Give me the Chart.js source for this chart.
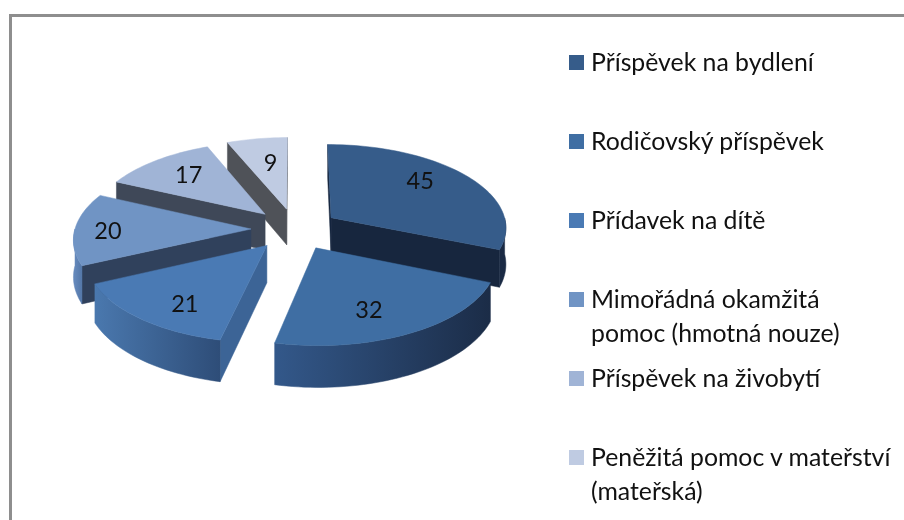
<!DOCTYPE html>
<html lang="cs">
<head>
    <meta charset="UTF-8">
    <title>Dávky</title>
    <script src="https://cdn.jsdelivr.net/npm/chart.js@4/dist/chart.umd.min.js"></script>
    <style>
        html, body {
            margin: 0;
            width: 904px;
            height: 520px;
            overflow: hidden;
            background: #fff;
        }
        #frame {
            position: absolute;
            left: 9px;
            top: 14px;
            right: 0;
            bottom: 0;
            border-left: 3px solid #8e8e8e;
            border-top: 3px solid #8e8e8e;
        }
        #chart {
            position: absolute;
            left: 0;
            top: 0;
        }
        #legend {
            position: absolute;
            left: 569px;
            top: 45px;
            font: 24.8px/33.5px Lato, sans-serif;
            color: #111;
        }
        .item {
            height: 79px;
            position: relative;
            padding-left: 22px;
            white-space: pre;
        }
        .item i {
            position: absolute;
            left: 0;
            top: 10px;
            width: 15px;
            height: 15px;
        }
    </style>
</head>
<body>
    <div id="frame"></div>
    <canvas id="chart" width="904" height="520"></canvas>
    <div id="legend"></div>

    <script>
        const categories = [
            'Příspěvek na bydlení',
            'Rodičovský příspěvek',
            'Přídavek na dítě',
            'Mimořádná okamžitá\npomoc (hmotná nouze)',
            'Příspěvek na živobytí',
            'Peněžitá pomoc v mateřství\n(mateřská)'
        ];
        const values = [45, 32, 21, 20, 17, 9];

        const topColors = ['#365c8a', '#3f6ea3', '#4a7ab4', '#7094c4', '#a0b4d6', '#bfcbe2'];
        const sideColors = ['#17263e', '#1b2c47', '#3c6496', '#30415c', '#3f4858', '#4f5258'];
        const rimLeft = ['#1a2a44', '#33588a', '#4a78ae', '#6488bb', '#8ea3c6', '#a0aec8'];
        const rimRight = ['#1a2a44', '#1b2c47', '#2e4d78', '#5377a8', '#8ea3c6', '#a0aec8'];
        const drawOrder = [5, 4, 3, 0, 2, 1];

        // posun popisku od vychozi pozice
        const labelDx = [4, -3, -7, -34, -7, 3];
        const labelDy = [-9, 12, 15, 2, -5, -1];

        // pohled na kolac - sklon, perspektiva, vyska
        const tilt = 0.472;
        const persp = 0.0006;
        const depth = 36.5;

        function project(cx, cy, x, y, h) {
            const f = 1 / (1 - y * persp);
            return [cx + x * f, cy + (y * tilt + h) * f];
        }

        function polygon(ctx, pts, fill) {
            ctx.beginPath();
            pts.forEach((p, i) => i ? ctx.lineTo(p[0], p[1]) : ctx.moveTo(p[0], p[1]));
            ctx.closePath();
            ctx.fillStyle = fill;
            ctx.fill();
            ctx.strokeStyle = fill;
            ctx.lineWidth = 0.5;
            ctx.stroke();
        }

        const pie3d = {
            id: 'pie3d',
            beforeDatasetsDraw(chart) {
                const ctx = chart.ctx;
                const arcs = chart.getDatasetMeta(0).data;
                ctx.save();

                drawOrder.forEach(i => {
                    const arc = arcs[i];
                    const { x, y, startAngle, endAngle, outerRadius } = arc.getProps(['x', 'y', 'startAngle', 'endAngle', 'outerRadius']);
                    const mid = (startAngle + endAngle) / 2;
                    const ox = Math.cos(mid) * arc.options.offset;
                    const oy = Math.sin(mid) * arc.options.offset;
                    const at = (r, a, h) => project(x, y, ox + r * Math.cos(a), oy + r * Math.sin(a), h);

                    const steps = Math.ceil((endAngle - startAngle) / 0.03);
                    const angles = [];
                    for (let s = 0; s <= steps; s++) {
                        angles.push(startAngle + (endAngle - startAngle) * s / steps);
                    }

                    // boky kolem stredu
                    const apex = at(0, 0, 0);
                    const apexLow = at(0, 0, depth);
                    const first = at(outerRadius, startAngle, 0);
                    const last = at(outerRadius, endAngle, 0);
                    if (first[0] < apex[0]) {
                        polygon(ctx, [apex, first, at(outerRadius, startAngle, depth), apexLow], sideColors[i]);
                    }
                    if (apex[0] < last[0]) {
                        polygon(ctx, [last, apex, apexLow, at(outerRadius, endAngle, depth)], sideColors[i]);
                    }

                    // vnejsi stena, jen predni cast
                    const front = angles.filter(a => Math.sin(a) >= 0);
                    if (front.length > 1) {
                        const upper = front.map(a => at(outerRadius, a, 0));
                        const lower = front.map(a => at(outerRadius, a, depth)).reverse();
                        const grad = ctx.createLinearGradient(upper[upper.length - 1][0], 0, upper[0][0], 0);
                        grad.addColorStop(0, rimLeft[i]);
                        grad.addColorStop(1, rimRight[i]);
                        polygon(ctx, upper.concat(lower), grad);
                    }

                    // horni plocha
                    polygon(ctx, [apex].concat(angles.map(a => at(outerRadius, a, 0))), arc.options.backgroundColor);

                    // popisek
                    const label = at(outerRadius * 0.62, mid, 0);
                    ctx.fillStyle = '#111';
                    ctx.font = '23.5px Lato';
                    ctx.textAlign = 'center';
                    ctx.textBaseline = 'middle';
                    ctx.fillText(chart.data.datasets[0].data[i], label[0] + labelDx[i], label[1] + labelDy[i]);
                });

                ctx.restore();
                return false;
            }
        };

        new Chart(document.getElementById('chart'), {
            type: 'pie',
            data: {
                labels: categories,
                datasets: [{
                    data: values,
                    backgroundColor: topColors,
                    borderWidth: 0,
                    offset: 44
                }]
            },
            options: {
                responsive: false,
                animation: false,
                radius: 176,
                layout: { padding: { right: 314, bottom: 62 } },
                plugins: {
                    legend: { display: false },
                    tooltip: { enabled: false }
                }
            },
            plugins: [pie3d]
        });

        const legend = document.getElementById('legend');
        categories.forEach((name, i) => {
            const item = document.createElement('div');
            item.className = 'item';
            item.textContent = name;
            const box = document.createElement('i');
            box.style.background = topColors[i];
            item.appendChild(box);
            legend.appendChild(item);
        });
    </script>
</body>
</html>
